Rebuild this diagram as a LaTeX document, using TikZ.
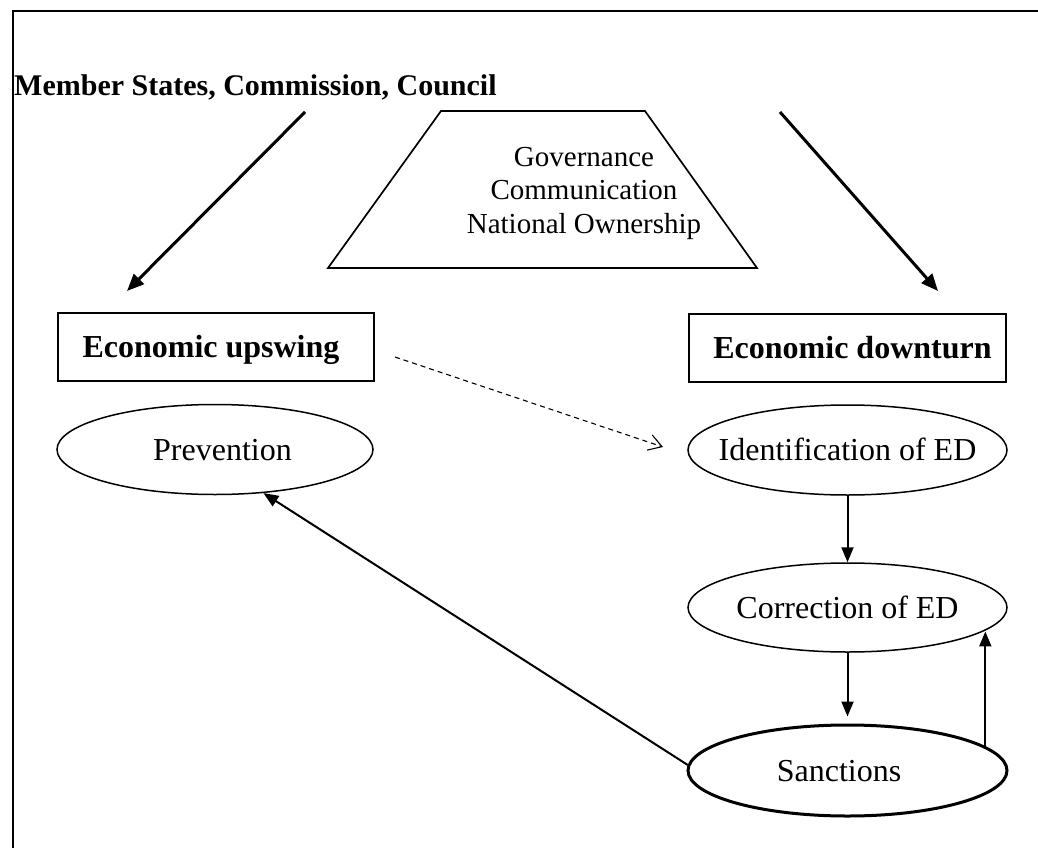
\documentclass[tikz,border=0pt]{standalone}
\usepackage{fontspec}
\setmainfont{Liberation Serif}
\usetikzlibrary{arrows.meta,shapes.geometric}
\begin{document}
\begin{tikzpicture}[x=1pt,y=-1pt,
  frameline/.style={line width=2pt},
  bigarrow/.style={line width=3pt,-{Triangle[length=17pt,width=14pt]}},
  arr/.style={line width=2pt,-{Triangle[length=15pt,width=12pt]}},
  dasharr/.style={line width=1.1pt,dash pattern=on 5pt off 4pt,-{Straight Barb[length=13pt,width=16pt,line width=1.1pt]}},
  box/.style={draw,line width=2pt,rectangle,inner sep=0pt,minimum width=316pt,minimum height=68pt,
    font=\fontsize{32}{38}\selectfont\bfseries,text height=21pt,text depth=0pt},
  oval/.style={draw,ellipse,line width=1.5pt,inner sep=0pt,minimum width=319pt,minimum height=90pt,
    font=\fontsize{32}{38}\selectfont,text height=21pt,text depth=0pt},
]
\useasboundingbox (0,0) rectangle (1038,848);
% frame
\coordinate (fb) at (13,848);
\coordinate (fc) at (13,11);
\coordinate (fr) at (1038,11);
\draw[frameline] (fb) -- (fc) -- (fr);

% title
\node[anchor=base west,inner sep=0pt,font=\fontsize{30}{36}\selectfont\bfseries] (title) at (14,96)
  {Member States, Commission, Council};

% trapezoid
\coordinate (tbl) at (328,268);
\coordinate (ttl) at (441,111);
\coordinate (ttr) at (645,111);
\coordinate (tbr) at (757,268);
\draw[line width=1.7pt] (tbl) -- (ttl) -- (ttr) -- (tbr) -- cycle;
\node[align=center,inner sep=0pt,font=\fontsize{29}{33.5}\selectfont] (gov) at (584,193)
  {Governance\\Communication\\National Ownership};

% boxes
\node[box] (up) at (216,347) {\makebox[0pt]{Economic upswing\hspace{10pt}}};
\node[box,minimum width=317pt] (down) at (847.5,348) {\makebox[0pt]{\hspace{10pt}Economic downturn}};

% ellipses
\node[oval,minimum width=316pt] (prev) at (215,449.5) {\makebox[0pt]{\hspace{15pt}Prevention}};
\node[oval] (ident) at (847.5,450) {\makebox[0pt]{Identification of ED}};
\node[oval,minimum height=89pt] (corr) at (847.5,607.5) {\makebox[0pt]{Correction of ED}};
\node[oval,line width=3pt,minimum height=91pt] (sanc) at (847.5,770.5) {\makebox[0pt]{Sanctions\hspace{17pt}}};

% arrows from title
\coordinate (l1) at (305,112);
\coordinate (l2) at (127,291);
\coordinate (r1) at (780,112);
\coordinate (r2) at (938,291);
\draw[bigarrow] (l1) -- (l2);
\draw[bigarrow] (r1) -- (r2);

% dashed
\coordinate (d1) at (395,357);
\coordinate (d2) at (663,447);
\draw[dasharr] (d1) -- (d2);

% flow
\draw[arr] (ident.south) -- (corr.north);
\draw[arr,shorten >=7pt] (corr.south) -- (corr.south |- sanc.north);
\draw[arr] (sanc.10.3) -- (sanc.10.3 |- corr.-10.1);
\draw[arr] (sanc.178) -- (prev.-42.2);
\end{tikzpicture}
\end{document}
